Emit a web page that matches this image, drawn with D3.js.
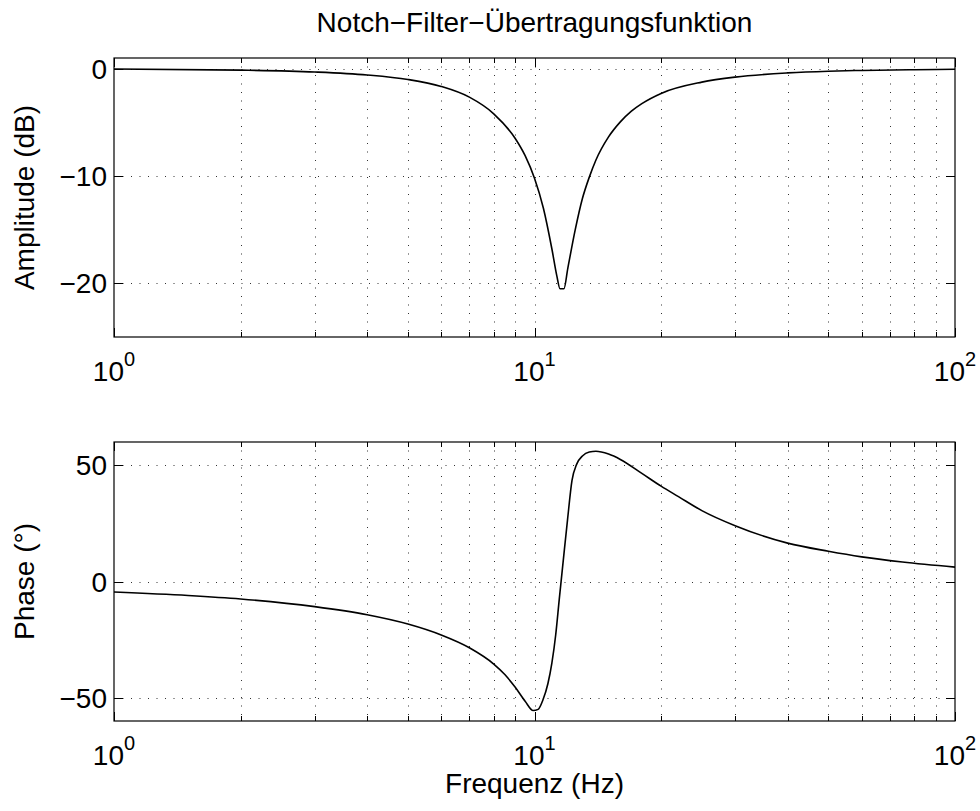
<!DOCTYPE html>
<html>
<head>
<meta charset="utf-8">
<script src="https://cdn.jsdelivr.net/npm/d3@7"></script>
<style>
  html, body { margin: 0; padding: 0; background: #fff; }
  svg { display: block; font-family: "Liberation Sans", Arial, Helvetica, sans-serif; }
</style>
</head>
<body>
<svg id="chart" width="980" height="811"></svg>
<script>
// --- Data ---
const ampFreq = [1, 2, 3, 4, 5, 6, 7, 8, 9, 9.5, 10, 10.5, 11, 11.3, 11.5, 11.75, 12, 12.5, 13, 13.5, 14, 15, 16, 17, 18, 20, 25, 30, 40, 50, 60, 80, 100];
const ampDb = [-0.03, -0.13, -0.3, -0.58, -1.0, -1.65, -2.65, -4.2, -6.5, -8.1, -10.2, -13.0, -16.8, -19.3, -20.5, -20.5, -18.6, -15.0, -12.1, -10.1, -8.5, -6.35, -4.95, -3.95, -3.25, -2.3, -1.25, -0.78, -0.39, -0.23, -0.16, -0.09, -0.05];

const phaseFreq = [1, 1.5, 2, 3, 4, 5, 6, 7, 8, 8.5, 9, 9.5, 9.93, 10.2, 10.47, 10.76, 11.0, 11.23, 11.45, 11.71, 11.98, 12.28, 12.6, 13.0, 13.5, 14, 15, 16, 18, 20, 22, 25, 30, 40, 50, 60, 75, 100];
const phaseDeg = [-4.5, -6.0, -7.5, -10.8, -14.3, -18.3, -23, -28.5, -35.5, -40, -45.5, -51.5, -55.5, -55, -51, -44, -35, -23, -7.8, 9.3, 26.4, 43.5, 50.5, 54, 55.7, 56, 54.8, 52.5, 46.5, 41, 36.5, 30.5, 24, 16.5, 13, 10.6, 8.4, 6.2];

const freqGrid = [1, 2, 3, 4, 5, 6, 7, 8, 9, 10, 20, 30, 40, 50, 60, 70, 80, 90, 100];
const freqMajor = [1, 10, 100];
const freqExp = ["0", "1", "2"];

const ampTicks = [-20, -10, 0];
const phaseTicks = [-50, 0, 50];

// --- Layout ---
const svg = d3.select("#chart");
const left = 114, right = 955;
const fontSize = 28;

const x = d3.scaleLog().domain([1, 100]).range([left, right]);

const panels = [
  { top: 58, bottom: 337, domain: [-25, 1], ticks: ampTicks, label: "Amplitude (dB)", xs: ampFreq, ys: ampDb },
  { top: 442, bottom: 721, domain: [-60, 60], ticks: phaseTicks, label: "Phase (°)", xs: phaseFreq, ys: phaseDeg }
];

const px = v => Math.round(v) + 0.5;

svg.append("rect").attr("width", 980).attr("height", 811).attr("fill", "#fff");

panels.forEach(p => {
  const y = d3.scaleLinear().domain(p.domain).range([p.bottom, p.top]);
  const g = svg.append("g");

  // grid
  g.selectAll(".vgrid")
    .data(freqGrid.filter(f => f > 1 && f < 100))
    .enter().append("line")
    .attr("x1", d => px(x(d))).attr("x2", d => px(x(d)))
    .attr("y1", p.top).attr("y2", p.bottom)
    .attr("stroke", "#333").attr("stroke-width", 1)
    .attr("stroke-dasharray", "1,7.5");

  g.selectAll(".hgrid")
    .data(p.ticks)
    .enter().append("line")
    .attr("x1", left).attr("x2", right)
    .attr("y1", d => px(y(d))).attr("y2", d => px(y(d)))
    .attr("stroke", "#333").attr("stroke-width", 1)
    .attr("stroke-dasharray", "1,7.5");

  // ticks (inward, MATLAB style)
  const minor = freqGrid.filter(f => !freqMajor.includes(f));
  const tickStyle = sel => sel.attr("stroke", "#000").attr("stroke-width", 1).attr("shape-rendering", "crispEdges");

  [[p.bottom, -1], [p.top, 1]].forEach(([yy, dir]) => {
    g.selectAll(null).data(minor).enter().append("line")
      .attr("x1", d => px(x(d))).attr("x2", d => px(x(d)))
      .attr("y1", yy).attr("y2", yy + dir * 5)
      .call(tickStyle);
    g.selectAll(null).data(freqMajor).enter().append("line")
      .attr("x1", d => px(x(d))).attr("x2", d => px(x(d)))
      .attr("y1", yy).attr("y2", yy + dir * 9)
      .call(tickStyle);
  });

  [[left, 1], [right, -1]].forEach(([xx, dir]) => {
    g.selectAll(null).data(p.ticks).enter().append("line")
      .attr("x1", xx).attr("x2", xx + dir * 9)
      .attr("y1", d => px(y(d))).attr("y2", d => px(y(d)))
      .call(tickStyle);
  });

  // curve
  const line = d3.line()
    .x((d, i) => x(p.xs[i]))
    .y(d => y(d))
    .curve(d3.curveMonotoneX);

  g.append("path")
    .datum(p.ys)
    .attr("d", line)
    .attr("fill", "none")
    .attr("stroke", "#000")
    .attr("stroke-width", 1.6)
    .attr("stroke-linejoin", "round");

  // box
  g.append("rect")
    .attr("x", left).attr("y", p.top)
    .attr("width", right - left).attr("height", p.bottom - p.top)
    .attr("fill", "none").attr("stroke", "#000").attr("stroke-width", 1.2);

  // y tick labels
  g.selectAll(null).data(p.ticks).enter().append("text")
    .attr("x", left - 7)
    .attr("y", d => y(d))
    .attr("dy", "0.36em")
    .attr("text-anchor", "end")
    .attr("font-size", fontSize)
    .text(d => d < 0 ? "\u2212" + Math.abs(d) : d);

  // x tick labels 10^n
  const xl = g.selectAll(null).data(freqMajor).enter().append("text")
    .attr("x", d => x(d))
    .attr("y", p.bottom + 44)
    .attr("text-anchor", "middle")
    .attr("font-size", fontSize);
  xl.append("tspan").text("10");
  xl.append("tspan").attr("dy", -15).attr("font-size", 20).text((d, i) => freqExp[i]);

  // y label
  svg.append("text")
    .attr("transform", `translate(34,${(p.top + p.bottom) / 2}) rotate(-90)`)
    .attr("text-anchor", "middle")
    .attr("font-size", fontSize)
    .text(p.label);
});

// title and x label
svg.append("text")
  .attr("x", (left + right) / 2).attr("y", 32)
  .attr("text-anchor", "middle")
  .attr("font-size", fontSize)
  .text("Notch\u2212Filter\u2212Übertragungsfunktion");

svg.append("text")
  .attr("x", (left + right) / 2).attr("y", 793)
  .attr("text-anchor", "middle")
  .attr("font-size", fontSize)
  .text("Frequenz (Hz)");
</script>
</body>
</html>
